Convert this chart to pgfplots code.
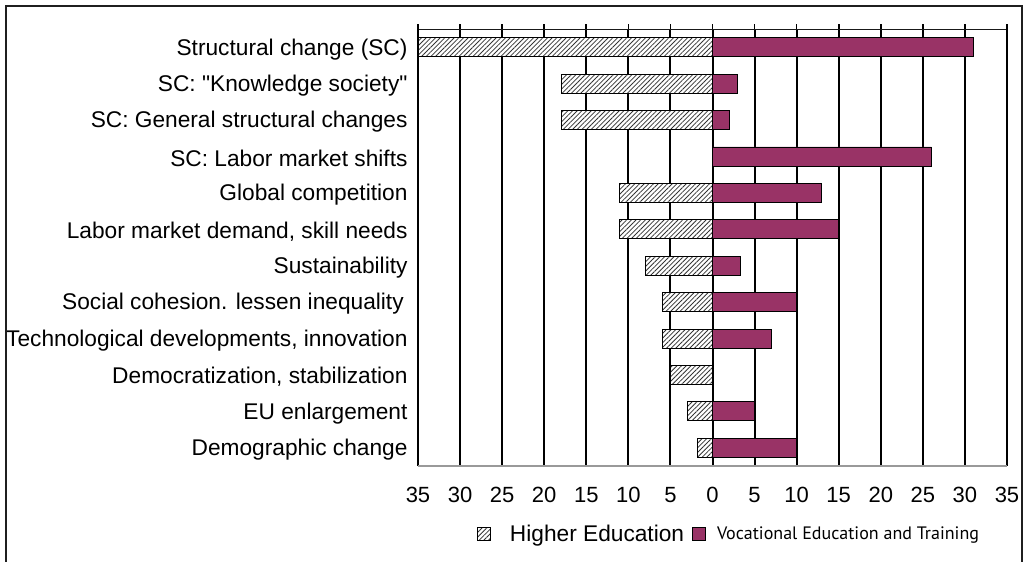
\documentclass[border=0pt]{standalone}
\usepackage{pgfplots}
\pgfplotsset{compat=1.18}
\usepackage{fontspec}
\setmainfont{Liberation Sans}[Ligatures=TeXOff]
\newfontfamily\ptsans{PT Sans}
\usetikzlibrary{patterns.meta}
\definecolor{vet}{RGB}{153,51,102}
\begin{document}
\begin{tikzpicture}
\path[use as bounding box] (0,0) rectangle (1024bp,-562bp);
\begin{axis}[
  at={(418bp,-466bp)}, anchor=south west,
  scale only axis, width=589bp, height=437bp,
  xbar, bar width=19bp, bar shift=0pt,
  xmin=-35, xmax=35, ymin=-0.5, ymax=11.5,
  xtick={-35,-30,...,35},
  xticklabels={35,30,25,20,15,10,5,0,5,10,15,20,25,30,35},
  ytick={0,...,11},
  yticklabels={Demographic change, EU enlargement, {Democratization, stabilization}, {Technological developments, innovation}, {Social cohesion. lessen inequality\,}, Sustainability, {Labor market demand, skill needs}, Global competition, SC: Labor market shifts, SC: General structural changes, {SC: "Knowledge society"}, Structural change (SC)},
  xtick pos=right, xticklabel pos=left, tick align=outside,
  major tick length=5bp,
  x tick style={black, line width=1.6bp},
  y tick style={draw=none},
  /pgf/number format/assume math mode=true,
  xticklabel style={font=\fontsize{22bp}{26bp}\selectfont, yshift=-13bp},
  yticklabel style={font=\fontsize{22.7bp}{26bp}\selectfont, xshift=-2bp, yshift=-2bp},
  axis line style={draw=none},
  xmajorgrids, major grid style={black, line width=2bp},
  legend image code/.code={\draw[#1] (0bp,-6.5bp) rectangle (13bp,6.5bp);},
  legend style={at={(axis description cs:0.1,-0.156)}, anchor=west, draw=none, fill=none, inner sep=0pt, legend columns=-1, legend cell align=left, font=\fontsize{22.7bp}{26bp}\selectfont, /tikz/every even column/.append style={column sep=6bp}},
]
\addplot[draw=black, line width=0.9bp, fill=white, postaction={pattern={Lines[angle=45,distance=3.3bp,line width=0.8bp]}, pattern color=black!80}]
  coordinates {(-35,11) (-18,10) (-18,9) (-11,7) (-11,6) (-8,5) (-6,4) (-6,3) (-5,2) (-3,1) (-1.8,0)};
\addlegendentry{\hspace*{17bp}Higher Education}
\addplot[draw=black, line width=0.9bp, fill=vet]
  coordinates {(31,11) (3,10) (2,9) (26,8) (13,7) (15,6) (3.3,5) (10,4) (7,3) (5,1) (10,0)};
\addlegendentry{\hspace*{9bp}\ptsans\fontsize{18bp}{20bp}\selectfont Vocational Education and Training}
\draw[black!90, line width=2.2bp] (rel axis cs:0,1) -- (rel axis cs:1,1);
\draw[black, line width=1.8bp] (rel axis cs:0,0) -- (rel axis cs:0,1);
\draw[black, line width=2bp] (rel axis cs:1,0) -- (rel axis cs:1,1);
\draw[gray!80, line width=2.5bp] (rel axis cs:0,0) -- (rel axis cs:1,0);
\end{axis}
\draw[black!88, line width=2bp] (6bp,-570bp) -- (6bp,-6bp) -- (1022bp,-6bp) -- (1022bp,-570bp);
\end{tikzpicture}
\end{document}
